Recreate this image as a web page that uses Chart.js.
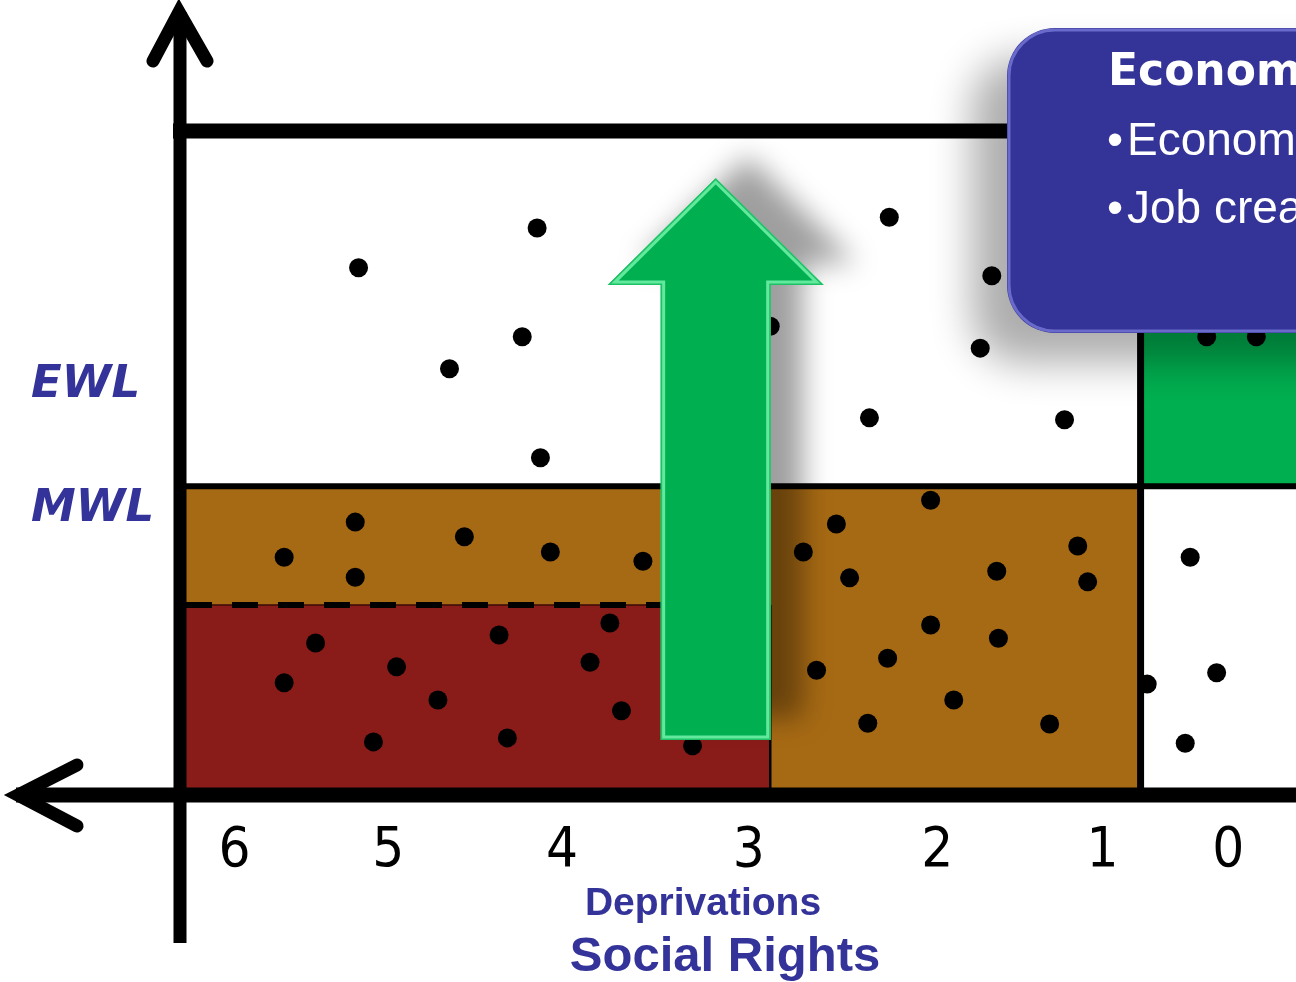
<!DOCTYPE html>
<html lang="en">
<head>
  <meta charset="UTF-8">
  <title>Deprivations / Social Rights</title>
  <script src="https://cdn.jsdelivr.net/npm/chart.js"></script>
  <style>
    html, body { margin: 0; padding: 0; background: #fff; }
    #wrap { width: 1296px; height: 982px; }
  </style>
</head>
<body>
  <div id="wrap"><canvas id="chart" width="1296" height="982"></canvas></div>
  <script>
    // tick labels on the deprivations axis and where they sit (axis runs 6 -> 0)
    const xTickLabels = ['6', '5', '4', '3', '2', '1', '0'];
    const xTickAt = [6.02, 5.09, 4.04, 2.91, 1.77, 0.77, 0.01];

    // thresholds
    const mwlLevel = 4.65;     // minimum welfare line
    const ewlLevel = 6.17;     // label position for EWL
    const severeLevel = 2.86;  // dashed line inside the poor zone
    const severeCut = 2.78;    // 3+ deprivations
    const deprivedCut = 0.54;  // 1+ deprivations

    // green arrow (x, from, headBase, to)
    const arrowX = 3.11;
    const arrowFrom = 0.83;
    const arrowHead = 7.68;
    const arrowTo = 9.29;

    // households
    const dotX = [
      5.27, 4.19, 4.28, 4.72, 4.17, 2.06, 1.44, 1.51, 2.18, 1.00, 2.78, 0.14, -0.16,
      5.72, 5.29, 5.29, 4.63, 4.11, 3.55,
      5.53, 5.72, 5.04, 4.79, 5.18, 4.42, 4.37, 3.75, 3.87, 3.68, 3.25,
      2.38, 1.81, 2.58, 2.30, 1.41, 0.92, 0.86, 1.81, 1.40, 2.07, 2.50, 1.67, 2.19, 1.09,
      0.24, 0.08, 0.27, 0.50
    ];
    const dotY = [
      7.94, 8.54, 6.90, 6.42, 5.08, 8.70, 7.82, 6.73, 5.68, 5.65, 7.06, 6.90, 6.90,
      3.58, 4.11, 3.28, 3.89, 3.66, 3.52,
      2.29, 1.69, 1.93, 1.43, 0.80, 2.41, 0.86, 2.59, 2.00, 1.27, 0.74,
      4.08, 4.44, 3.66, 3.27, 3.37, 3.75, 3.21, 2.56, 2.36, 2.06, 1.88, 1.43, 1.08, 1.07,
      3.58, 1.84, 0.78, 1.67
    ];

    const BLUE_TEXT = '#333399';

    const diagram = {
      id: 'diagram',
      beforeDraw(chart) {
        const ctx = chart.ctx;
        ctx.save();
        ctx.fillStyle = '#fff';
        ctx.fillRect(0, 0, chart.width, chart.height);
        ctx.restore();
      },
      beforeDatasetsDraw(chart) {
        const { ctx, chartArea: a, scales: { x, y } } = chart;
        const ym = y.getPixelForValue(mwlLevel);
        const x1 = x.getPixelForValue(deprivedCut);
        ctx.save();
        // poor zone (brown)
        ctx.fillStyle = '#A76A14';
        ctx.fillRect(a.left, ym, x1 - a.left, a.bottom - ym);
        // severe zone (dark red)
        const ys = y.getPixelForValue(severeLevel);
        ctx.fillStyle = '#891C18';
        ctx.fillRect(a.left, ys, x.getPixelForValue(severeCut) - a.left, a.bottom - ys);
        // above the line but socially deprived (green)
        ctx.fillStyle = '#00B050';
        ctx.fillRect(x1, a.top, a.right - x1, ym - a.top);
        ctx.restore();
      },
      afterDatasetsDraw(chart) {
        const { ctx, chartArea: a, scales: { x, y } } = chart;
        const ym = y.getPixelForValue(mwlLevel);
        const ys = y.getPixelForValue(severeLevel);
        const x3 = x.getPixelForValue(severeCut);
        const x1 = x.getPixelForValue(deprivedCut);
        ctx.save();

        // dashed border of severe zone
        ctx.strokeStyle = '#3a0806';
        ctx.lineWidth = 1.5;
        ctx.beginPath();
        ctx.moveTo(a.left, ys); ctx.lineTo(x3, ys);
        ctx.stroke();
        ctx.strokeStyle = '#000';
        ctx.lineWidth = 6;
        ctx.setLineDash([26, 20]);
        ctx.beginPath();
        ctx.moveTo(a.left + 6, ys); ctx.lineTo(x3, ys);
        ctx.stroke();
        ctx.setLineDash([]);
        ctx.lineWidth = 2.5;
        ctx.beginPath();
        ctx.moveTo(x3, ys); ctx.lineTo(x3, a.bottom);
        ctx.stroke();

        // MWL line and deprivation boundary
        ctx.lineWidth = 6;
        ctx.beginPath();
        ctx.moveTo(a.left, ym); ctx.lineTo(a.right, ym);
        ctx.stroke();
        ctx.lineWidth = 7;
        ctx.beginPath();
        ctx.moveTo(x1, a.top); ctx.lineTo(x1, a.bottom);
        ctx.stroke();

        // top border
        ctx.lineWidth = 15;
        ctx.beginPath();
        ctx.moveTo(a.left - 7, a.top); ctx.lineTo(a.right, a.top);
        ctx.stroke();

        // axes with arrows
        ctx.lineWidth = 13;
        ctx.beginPath();
        ctx.moveTo(a.left, 12); ctx.lineTo(a.left, 943);
        ctx.stroke();
        ctx.lineWidth = 15;
        ctx.beginPath();
        ctx.moveTo(16, a.bottom); ctx.lineTo(a.right, a.bottom);
        ctx.stroke();
        ctx.lineWidth = 13;
        ctx.lineCap = 'round';
        ctx.lineJoin = 'miter';
        ctx.beginPath();
        ctx.moveTo(153, 61); ctx.lineTo(a.left - 1, 12); ctx.lineTo(207, 61);
        ctx.stroke();
        ctx.beginPath();
        ctx.moveTo(77, 765); ctx.lineTo(18, a.bottom); ctx.lineTo(77, 826);
        ctx.stroke();
        ctx.lineCap = 'butt';

        // green arrow
        const cx = x.getPixelForValue(arrowX);
        const tip = y.getPixelForValue(arrowTo);
        const hb = y.getPixelForValue(arrowHead);
        const bot = y.getPixelForValue(arrowFrom);
        const arrow = new Path2D();
        arrow.moveTo(cx, tip);
        arrow.lineTo(cx + 108, hb);
        arrow.lineTo(cx + 55, hb);
        arrow.lineTo(cx + 55, bot);
        arrow.lineTo(cx - 55, bot);
        arrow.lineTo(cx - 55, hb);
        arrow.lineTo(cx - 108, hb);
        arrow.closePath();
        ctx.save();
        ctx.shadowColor = 'rgba(0,0,0,0.38)';
        ctx.shadowBlur = 28;
        ctx.shadowOffsetX = 32;
        ctx.shadowOffsetY = -22;
        ctx.fillStyle = '#00B050';
        ctx.fill(arrow);
        ctx.restore();
        ctx.save();
        ctx.clip(arrow);
        ctx.strokeStyle = 'rgba(110,240,165,0.9)';
        ctx.lineWidth = 9;
        ctx.stroke(arrow);
        ctx.strokeStyle = 'rgba(0,176,80,0.7)';
        ctx.lineWidth = 3;
        ctx.stroke(arrow);
        ctx.restore();

        // blue info box
        ctx.save();
        ctx.shadowColor = 'rgba(0,0,0,0.32)';
        ctx.shadowBlur = 40;
        ctx.shadowOffsetX = -35;
        ctx.shadowOffsetY = 30;
        ctx.fillStyle = '#343398';
        ctx.beginPath();
        ctx.roundRect(1007, 28, 420, 305, 48);
        ctx.fill();
        ctx.restore();
        ctx.save();
        ctx.strokeStyle = 'rgba(120,120,215,0.8)';
        ctx.lineWidth = 3;
        ctx.beginPath();
        ctx.roundRect(1009, 30, 420, 301, 46);
        ctx.stroke();
        ctx.restore();
        ctx.fillStyle = '#fff';
        ctx.textBaseline = 'middle';
        ctx.textAlign = 'left';
        ctx.font = 'bold 44px "DejaVu Sans"';
        ctx.fillText('Economic Rights', 1108, 74);
        ctx.font = '46px "Liberation Sans"';
        ctx.fillText('\u2022', 1107, 142);
        ctx.fillText('Economic growth', 1127, 142);
        ctx.fillText('\u2022', 1107, 210);
        ctx.fillText('Job creation', 1127, 210);

        // level labels
        ctx.fillStyle = BLUE_TEXT;
        ctx.font = 'italic bold 45px "DejaVu Sans"';
        ctx.fillText('EWL', 31, y.getPixelForValue(ewlLevel));
        ctx.fillText('MWL', 31, ym + 23);

        // tick labels
        ctx.fillStyle = '#000';
        ctx.textAlign = 'center';
        ctx.font = '56px "Liberation Sans Narrow", "DejaVu Sans Condensed", sans-serif';
        xTickAt.forEach((v, i) => {
          ctx.fillText(xTickLabels[i], x.getPixelForValue(v), 851);
        });

        // axis titles
        ctx.fillStyle = BLUE_TEXT;
        ctx.font = 'bold 39px "Liberation Sans"';
        ctx.fillText('Deprivations', 703, 904);
        ctx.font = 'bold 49px "Liberation Sans"';
        ctx.fillText('Social Rights', 725, 957);

        ctx.restore();
      }
    };

    new Chart(document.getElementById('chart'), {
      type: 'scatter',
      data: {
        datasets: [{
          data: dotX.map((v, i) => ({ x: v, y: dotY[i] })),
          backgroundColor: '#000',
          borderWidth: 0,
          pointRadius: 9.5
        }]
      },
      options: {
        responsive: false,
        animation: false,
        layout: { autoPadding: false, padding: { left: 180, top: 131, right: 0, bottom: 187 } },
        plugins: { legend: { display: false }, tooltip: { enabled: false } },
        scales: {
          x: { type: 'linear', display: false, reverse: true, min: -0.4, max: 6.35 },
          y: { type: 'linear', display: false, min: 0, max: 10 }
        }
      },
      plugins: [diagram]
    });
  </script>
</body>
</html>
